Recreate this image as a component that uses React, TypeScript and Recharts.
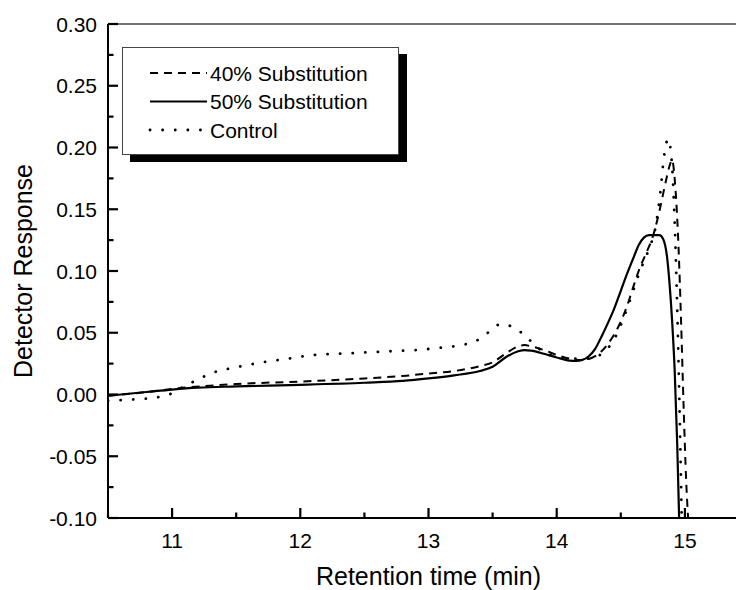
import React from "react";
import {
  LineChart, Line, XAxis, YAxis, Legend, ReferenceLine, Label,
} from "recharts";

// retention time (min) / detector response
const sub40Time = [10.5, 10.8, 11.0, 11.5, 12.0, 12.5, 12.8, 13.0, 13.2, 13.4, 13.5, 13.6, 13.7, 13.75, 13.8, 13.9, 14.0, 14.1, 14.15, 14.2, 14.3, 14.35, 14.4, 14.45, 14.5, 14.55, 14.6, 14.65, 14.7, 14.75, 14.8, 14.85, 14.88, 14.9, 14.92, 14.95, 14.97, 14.99, 15.01, 15.025];
const sub40Value = [-0.001, 0.002, 0.0045, 0.0085, 0.0105, 0.013, 0.015, 0.017, 0.019, 0.023, 0.026, 0.033, 0.039, 0.04, 0.039, 0.036, 0.032, 0.029, 0.028, 0.028, 0.031, 0.035, 0.041, 0.049, 0.059, 0.072, 0.088, 0.103, 0.115, 0.128, 0.148, 0.172, 0.185, 0.19, 0.175, 0.12, 0.06, -0.01, -0.07, -0.1];

const sub50Time = [10.5, 10.8, 11.0, 11.2, 11.5, 12.0, 12.5, 12.8, 13.0, 13.2, 13.4, 13.5, 13.6, 13.7, 13.75, 13.8, 13.9, 14.0, 14.1, 14.15, 14.2, 14.25, 14.3, 14.35, 14.4, 14.45, 14.5, 14.55, 14.6, 14.64, 14.68, 14.72, 14.8, 14.83, 14.86, 14.88, 14.9, 14.92, 14.94, 14.955];
const sub50Value = [-0.001, 0.002, 0.004, 0.0055, 0.0065, 0.0078, 0.0095, 0.011, 0.013, 0.0155, 0.019, 0.0225, 0.03, 0.035, 0.036, 0.0355, 0.033, 0.03, 0.0275, 0.0272, 0.028, 0.031, 0.037, 0.047, 0.058, 0.07, 0.084, 0.098, 0.111, 0.121, 0.127, 0.129, 0.129, 0.126, 0.112, 0.09, 0.06, 0.02, -0.04, -0.1];

const controlTime = [10.5, 10.7, 10.9, 11.0, 11.1, 11.2, 11.3, 11.5, 11.7, 11.9, 12.1, 12.3, 12.5, 12.7, 12.9, 13.1, 13.3, 13.4, 13.5, 13.56, 13.65, 13.75, 13.85, 13.95, 14.05, 14.15, 14.25, 14.35, 14.45, 14.55, 14.65, 14.72, 14.77, 14.81, 14.84, 14.87, 14.9, 14.92, 14.94, 14.96, 14.975];
const controlValue = [-0.005, -0.004, -0.002, 0.001, 0.007, 0.012, 0.017, 0.022, 0.026, 0.029, 0.032, 0.033, 0.034, 0.035, 0.036, 0.038, 0.041, 0.045, 0.053, 0.057, 0.055, 0.048, 0.038, 0.032, 0.03, 0.029, 0.029, 0.033, 0.045, 0.07, 0.1, 0.118, 0.135, 0.165, 0.195, 0.207, 0.185, 0.14, 0.07, -0.02, -0.1];

// major + minor ticks; only the majors get a label
const xTicks = [10.5, 11, 11.5, 12, 12.5, 13, 13.5, 14, 14.5, 15, 15.5];
const yTicks = [-0.1, -0.075, -0.05, -0.025, 0, 0.025, 0.05, 0.075, 0.1, 0.125, 0.15, 0.175, 0.2, 0.225, 0.25, 0.275, 0.3];

const FONT = "Arial, 'Liberation Sans', sans-serif";
const TICK_GAP_Y = 11;
const TICK_GAP_X = 15;

const pairs = (ts: number[], vs: number[]) => ts.map((t, i) => ({ t, v: vs[i] }));

const series = [
  { name: "40% Substitution", data: pairs(sub40Time, sub40Value), dash: "8 6", width: 2, cap: "butt" },
  { name: "50% Substitution", data: pairs(sub50Time, sub50Value), dash: undefined, width: 2.2, cap: "butt" },
  { name: "Control", data: pairs(controlTime, controlValue), dash: "0.1 12.5", width: 2.8, cap: "round" },
];

// ticks point into the plot, Origin style
function YTick(props: any) {
  const x = Number(props.x);
  const y = Number(props.y);
  const v = Number(props.payload.value);
  const major = Math.abs(v * 20 - Math.round(v * 20)) < 1e-6;
  const ax = x + TICK_GAP_Y;
  return (
    <g>
      <path d={`M${ax},${y}H${ax + (major ? 10 : 5.5)}`} stroke="#000" strokeWidth={2.2} fill="none" />
      {major && (
        <text x={x} y={y} dy="0.36em" textAnchor="end" fontSize={21} fontFamily={FONT} fill="#000">
          {v.toFixed(2)}
        </text>
      )}
    </g>
  );
}

function XTick(props: any) {
  const x = Number(props.x);
  const y = Number(props.y);
  const v = Number(props.payload.value);
  const major = Number.isInteger(v);
  const ay = y - TICK_GAP_X;
  return (
    <g>
      <path d={`M${x},${ay}V${ay - (major ? 10 : 5.5)}`} stroke="#000" strokeWidth={2.2} fill="none" />
      {major && (
        <text x={x} y={y} dy="0.72em" textAnchor="middle" fontSize={21} fontFamily={FONT} fill="#000">
          {v}
        </text>
      )}
    </g>
  );
}

function LegendBox() {
  return (
    <div style={{
      width: 275, height: 106, background: "#fff", border: "1px solid #444",
      boxShadow: "8px 7px 0 #000", fontFamily: FONT,
    }}>
      <svg width={275} height={106}>
        {series.map((s, i) => {
          const y = 25 + i * 28.5;
          return (
            <g key={s.name}>
              <line x1={27} x2={84} y1={y} y2={y} stroke="#000" strokeWidth={s.width}
                    strokeDasharray={s.dash} strokeLinecap={s.cap as any} />
              <text x={87} y={y} dy="0.36em" fontSize={21} fill="#000">{s.name}</text>
            </g>
          );
        })}
      </svg>
    </div>
  );
}

export default function App() {
  return (
    <div style={{ position: "fixed", left: 0, top: 0, width: 736, height: 590,
                  overflow: "hidden", background: "#fff" }}>
      <LineChart width={760} height={590} margin={{ top: 24, right: 11, left: 0, bottom: 0 }}>
        <XAxis
          dataKey="t" type="number" domain={[10.5, 15.5]} ticks={xTicks} interval={0}
          height={72} tickSize={0} tickMargin={TICK_GAP_X} tickLine={false}
          axisLine={{ stroke: "#000", strokeWidth: 2 }} tick={(p: any) => <XTick {...p} />}
          allowDataOverflow
        >
          <Label value="Retention time (min)" position="insideBottom" offset={5}
                 style={{ fontSize: 25, fontFamily: FONT, fill: "#000" }} />
        </XAxis>
        <YAxis
          type="number" domain={[-0.1, 0.3]} ticks={yTicks} interval={0}
          width={108} tickSize={0} tickMargin={TICK_GAP_Y} tickLine={false}
          axisLine={{ stroke: "#000", strokeWidth: 2 }} tick={(p: any) => <YTick {...p} />}
          allowDataOverflow
        >
          <Label value="Detector Response" angle={-90} position="insideLeft" offset={23}
                 style={{ fontSize: 25, fontFamily: FONT, fill: "#000", textAnchor: "middle" }} />
        </YAxis>
        <ReferenceLine y={0.3} stroke="#444" strokeWidth={1.5} />
        <Legend layout="vertical" align="center" verticalAlign="middle"
                wrapperStyle={{ left: 122, top: 47, width: "auto" }}
                content={() => <LegendBox />} />
        {series.map(s => (
          <Line
            key={s.name} data={s.data} dataKey="v" name={s.name} type="monotone"
            stroke="#000" strokeWidth={s.width} strokeDasharray={s.dash}
            strokeLinecap={s.cap as any} dot={false} activeDot={false}
            isAnimationActive={false}
          />
        ))}
      </LineChart>
    </div>
  );
}
